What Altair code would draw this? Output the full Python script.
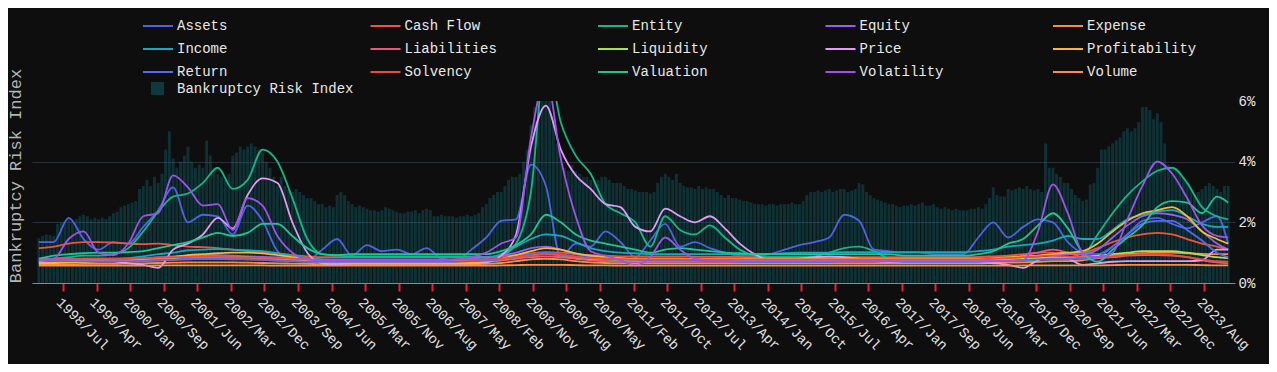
import json
import altair as alt
import pandas as pd

FONT = "Courier New, Liberation Mono, monospace"
BG = "#0e0e0e"
BAR_NAME = "Bankruptcy Risk Index"

# x-axis tick labels (one every 9 periods, first at period boundary 7)
tick_labels = ["1998/Jul", "1999/Apr", "2000/Jan", "2000/Sep", "2001/Jun", "2002/Mar", "2002/Dec",
               "2003/Sep", "2004/Jun", "2005/Mar", "2005/Nov", "2006/Aug", "2007/May", "2008/Feb",
               "2008/Nov", "2009/Aug", "2010/May", "2011/Feb", "2011/Oct", "2012/Jul", "2013/Apr",
               "2014/Jan", "2014/Oct", "2015/Jul", "2016/Apr", "2017/Jan", "2017/Sep", "2018/Jun",
               "2019/Mar", "2019/Dec", "2020/Sep", "2021/Jun", "2022/Mar", "2022/Dec", "2023/Aug"]
tick_idx = [7 + 9 * j for j in range(len(tick_labels))]

# Bankruptcy Risk Index (bars, %), one per period
bar_values = [
    1.48, 1.55, 1.6, 1.58, 1.55, 1.95, 2.0, 2.05, 2.1, 2.05,
    2.1, 2.2, 2.25, 2.2, 2.1, 2.15, 2.1, 2.15, 2.1, 2.2,
    2.3, 2.35, 2.5, 2.55, 2.6, 2.65, 2.7, 3.1, 3.2, 3.4,
    3.2, 3.5, 3.3, 3.6, 4.4, 5.0, 4.1, 3.8, 4.0, 4.2,
    4.5, 4.0, 3.8, 3.9, 3.8, 4.7, 4.2, 3.8, 3.6, 3.5,
    3.4, 3.6, 4.2, 4.3, 4.5, 4.4, 4.5, 4.6, 4.5, 4.4,
    4.3, 4.0, 3.8, 3.5, 3.2, 3.5, 3.2, 3.1, 3.0, 3.1,
    3.0, 2.9, 2.8, 2.8, 2.7, 2.6, 2.6, 2.5, 2.55, 2.5,
    2.9, 3.0, 2.9, 2.7, 2.6, 2.5, 2.55, 2.5, 2.45, 2.4,
    2.4, 2.35, 2.4, 2.5, 2.45, 2.4, 2.35, 2.3, 2.3, 2.35,
    2.35, 2.4, 2.3, 2.4, 2.45, 2.4, 2.2, 2.2, 2.25, 2.2,
    2.2, 2.2, 2.15, 2.2, 2.2, 2.25, 2.2, 2.25, 2.3, 2.5,
    2.6, 2.8, 2.9, 3.0, 3.0, 3.2, 3.4, 3.5, 3.5, 3.6,
    4.0, 4.4, 5.2, 5.8, 6.0, 6.0, 6.0, 6.0, 5.5, 4.6,
    4.2, 3.8, 3.7, 3.9, 3.7, 3.6, 3.5, 3.5, 3.4, 3.4,
    3.4, 3.5, 3.5, 3.4, 3.3, 3.3, 3.3, 3.2, 3.1, 3.1,
    3.05, 3.0, 3.0, 3.0, 2.95, 3.0, 3.3, 3.5, 3.6, 3.5,
    3.4, 3.6, 3.3, 3.2, 3.15, 3.15, 3.1, 3.2, 3.1, 3.15,
    3.1, 3.1, 3.0, 2.9, 2.8, 2.9, 2.8, 2.8, 2.75, 2.7,
    2.7, 2.65, 2.6, 2.6, 2.6, 2.55, 2.6, 2.6, 2.55, 2.6,
    2.6, 2.6, 2.65, 2.6, 2.6, 2.7, 2.9, 3.0, 3.0, 3.05,
    3.0, 3.05, 3.1, 3.0, 3.05, 3.1, 3.1, 3.0, 3.05, 3.1,
    3.3, 3.25, 3.0, 2.9, 2.8, 2.75, 2.7, 2.65, 2.6, 2.6,
    2.55, 2.5, 2.55, 2.55, 2.6, 2.55, 2.6, 2.65, 2.55, 2.55,
    2.6, 2.5, 2.45, 2.5, 2.45, 2.4, 2.45, 2.4, 2.4, 2.4,
    2.45, 2.45, 2.5, 2.45, 2.6, 2.8, 3.15, 2.9, 2.85, 2.85,
    3.1, 3.05, 3.1, 3.15, 3.1, 3.2, 3.1, 3.05, 3.1, 3.0,
    4.6, 3.8, 3.8, 3.6, 3.5, 3.3, 3.3, 3.1, 2.9, 2.8,
    2.7, 2.75, 3.25, 3.3, 3.8, 4.4, 4.4, 4.5, 4.6, 4.7,
    4.8, 5.0, 5.1, 5.0, 5.1, 5.3, 5.8, 5.8, 5.7, 5.4,
    5.6, 5.3, 4.6, 3.9, 3.8, 3.8, 3.7, 3.5, 3.3, 3.1,
    2.9, 3.0, 3.1, 3.2, 3.3, 3.2, 3.1, 3.0, 3.2, 3.2,
]
N_PERIODS = len(bar_values)

# periods at which the line series were read
line_idx = list(range(0, 317, 4)) + [319]

assets = [
    1.35, 1.35, 2.15, 1.45, 1.1, 1.35, 1.3, 1.85, 2.4, 3.15,
    2.0, 2.25, 2.2, 1.6, 2.55, 2.05, 1.05, 0.75, 0.75, 1.1,
    1.45, 0.9, 1.25, 1.05, 1.1, 0.95, 1.15, 0.8, 0.75, 1.1,
    1.5, 2.05, 2.1, 3.9, 3.2, 0.85, 1.3, 1.2, 1.7, 1.35,
    0.85, 1.4, 1.95, 1.2, 1.35, 1.15, 1.0, 0.9, 0.9, 0.95,
    1.1, 1.25, 1.35, 1.5, 2.25, 2.05, 1.1, 1.05, 1.0, 1.0,
    0.95, 0.95, 0.95, 1.5, 2.0, 1.5, 1.85, 2.1, 2.0, 1.35,
    1.0, 0.95, 1.2, 1.6, 2.05, 2.15, 1.95, 1.8, 2.0, 2.2,
    1.3]
cash_flow = [
    1.15, 1.2, 1.3, 1.35, 1.35, 1.33, 1.3, 1.28, 1.3, 1.25,
    1.2, 1.18, 1.15, 1.1, 1.05, 1.02, 0.98, 0.92, 0.88, 0.85,
    0.85, 0.85, 0.85, 0.85, 0.85, 0.85, 0.85, 0.85, 0.85, 0.85,
    0.85, 0.88, 0.92, 0.98, 1.02, 1.0, 0.95, 0.92, 0.9, 0.88,
    0.88, 0.88, 0.88, 0.88, 0.87, 0.87, 0.86, 0.86, 0.85, 0.85,
    0.85, 0.85, 0.85, 0.85, 0.85, 0.85, 0.85, 0.85, 0.85, 0.85,
    0.85, 0.85, 0.85, 0.86, 0.88, 0.9, 0.95, 1.0, 1.0, 0.98,
    1.0, 1.15, 1.35, 1.5, 1.6, 1.65, 1.6, 1.45, 1.3, 1.2,
    1.1]
entity = [
    0.72, 0.8, 0.85, 0.9, 0.9, 0.95, 1.15, 1.7, 2.35, 2.85,
    2.95, 3.3, 3.8, 3.1, 3.4, 4.4, 4.0, 2.8, 1.45, 0.95,
    0.9, 0.88, 0.88, 0.88, 0.88, 0.88, 0.88, 0.88, 0.88, 0.88,
    0.85, 0.9, 1.3, 3.0, 7.5, 5.3, 4.2, 3.6, 2.6, 2.3,
    2.0, 1.2, 2.2, 1.75, 1.6, 1.9, 1.5, 1.1, 0.9, 0.85,
    0.85, 0.85, 0.88, 1.0, 1.15, 1.2, 1.05, 0.8, 0.72, 0.72,
    0.72, 0.72, 0.72, 0.72, 0.75, 0.75, 0.75, 0.78, 0.8, 0.78,
    0.9, 1.6, 2.3, 2.9, 3.35, 3.7, 3.8, 3.3, 2.5, 2.2,
    2.1]
equity = [
    0.8, 0.8, 0.8, 0.8, 0.8, 0.8, 0.8, 0.82, 0.85, 0.88,
    0.9, 0.92, 0.92, 0.9, 0.88, 0.86, 0.84, 0.82, 0.8, 0.78,
    0.78, 0.78, 0.78, 0.78, 0.78, 0.78, 0.78, 0.78, 0.78, 0.8,
    0.85, 0.9, 1.0, 1.15, 1.2, 1.1, 0.95, 0.88, 0.85, 0.82,
    0.8, 0.8, 0.8, 0.8, 0.78, 0.76, 0.75, 0.75, 0.75, 0.75,
    0.75, 0.75, 0.75, 0.75, 0.78, 0.78, 0.78, 0.78, 0.76, 0.75,
    0.75, 0.75, 0.75, 0.75, 0.78, 0.8, 0.85, 0.9, 0.95, 0.95,
    0.95, 1.1, 1.5, 1.9, 2.2, 2.3, 2.25, 2.1, 1.7, 1.3,
    1.1]
expense = [
    0.62, 0.62, 0.62, 0.63, 0.63, 0.63, 0.64, 0.65, 0.66, 0.67,
    0.68, 0.68, 0.68, 0.68, 0.67, 0.66, 0.65, 0.64, 0.63, 0.62,
    0.62, 0.62, 0.62, 0.62, 0.62, 0.62, 0.62, 0.62, 0.62, 0.62,
    0.63, 0.66, 0.72, 0.78, 0.8, 0.78, 0.72, 0.68, 0.66, 0.65,
    0.65, 0.65, 0.65, 0.65, 0.65, 0.65, 0.65, 0.65, 0.65, 0.65,
    0.65, 0.65, 0.65, 0.65, 0.65, 0.65, 0.65, 0.65, 0.65, 0.65,
    0.65, 0.65, 0.65, 0.65, 0.66, 0.67, 0.68, 0.7, 0.72, 0.72,
    0.75, 0.82, 0.9, 0.95, 0.98, 1.0, 1.0, 0.98, 0.96, 0.95,
    0.95]
income = [
    0.65, 0.68, 0.7, 0.72, 0.75, 0.78, 0.82, 0.88, 0.95, 1.0,
    1.08, 1.1, 1.12, 1.1, 1.08, 1.05, 0.98, 0.9, 0.82, 0.78,
    0.75, 0.75, 0.75, 0.75, 0.75, 0.75, 0.75, 0.75, 0.75, 0.75,
    0.8, 0.95, 1.2, 1.45, 1.6, 1.55, 1.35, 1.15, 1.05, 1.0,
    0.98, 0.95, 0.95, 0.95, 0.95, 0.95, 0.95, 0.95, 0.95, 0.95,
    0.98, 1.0, 1.0, 1.0, 1.02, 1.02, 1.02, 1.02, 1.02, 1.02,
    1.02, 1.02, 1.02, 1.05, 1.1, 1.2, 1.25, 1.3, 1.4, 1.55,
    1.45, 1.45, 1.75, 2.1, 2.25, 2.35, 2.4, 2.2, 1.95, 1.85,
    1.85]
liabilities = [
    0.7, 0.7, 0.7, 0.7, 0.7, 0.7, 0.7, 0.72, 0.74, 0.76,
    0.78, 0.8, 0.8, 0.8, 0.78, 0.76, 0.74, 0.72, 0.7, 0.68,
    0.68, 0.68, 0.68, 0.68, 0.68, 0.68, 0.68, 0.68, 0.68, 0.68,
    0.7, 0.74, 0.8, 0.85, 0.88, 0.85, 0.8, 0.75, 0.72, 0.7,
    0.7, 0.7, 0.7, 0.7, 0.7, 0.7, 0.7, 0.7, 0.7, 0.7,
    0.7, 0.7, 0.7, 0.7, 0.7, 0.7, 0.7, 0.7, 0.7, 0.7,
    0.7, 0.7, 0.7, 0.72, 0.75, 0.8, 0.9, 1.0, 1.1, 1.0,
    0.85, 0.82, 0.85, 0.9, 0.92, 0.92, 0.9, 0.85, 0.75, 0.68,
    0.65]
liquidity = [
    0.72, 0.72, 0.72, 0.72, 0.72, 0.72, 0.74, 0.76, 0.78, 0.8,
    0.82, 0.84, 0.85, 0.85, 0.84, 0.82, 0.8, 0.78, 0.75, 0.72,
    0.72, 0.72, 0.72, 0.72, 0.72, 0.72, 0.72, 0.72, 0.72, 0.72,
    0.74, 0.78, 0.85, 0.92, 0.95, 0.92, 0.85, 0.8, 0.78, 0.76,
    0.75, 0.75, 0.75, 0.75, 0.75, 0.75, 0.75, 0.75, 0.75, 0.75,
    0.75, 0.75, 0.75, 0.75, 0.75, 0.75, 0.75, 0.75, 0.75, 0.75,
    0.75, 0.75, 0.75, 0.75, 0.76, 0.78, 0.8, 0.82, 0.84, 0.85,
    0.86, 0.9, 0.95, 1.0, 1.05, 1.05, 1.05, 1.0, 0.92, 0.85,
    0.82]
price = [
    0.7, 0.7, 0.72, 0.75, 0.75, 0.72, 0.65, 0.6, 0.5, 1.1,
    1.3, 1.6, 2.15, 1.8, 2.9, 3.45, 3.3, 2.0, 1.0, 0.65,
    0.62, 0.65, 0.65, 0.65, 0.65, 0.65, 0.65, 0.65, 0.65, 0.65,
    0.68, 0.9, 1.6, 4.5, 5.85, 4.4, 3.55, 3.1, 2.6, 2.5,
    1.85, 1.7, 2.45, 2.2, 2.0, 2.2, 1.8, 1.3, 0.95, 0.75,
    0.72, 0.8, 0.85, 0.88, 0.85, 0.8, 0.72, 0.7, 0.7, 0.7,
    0.7, 0.7, 0.7, 0.68, 0.65, 0.6, 0.5, 0.75, 0.85, 0.8,
    0.6, 0.65, 0.7, 0.72, 0.72, 0.72, 0.72, 0.72, 0.75, 1.1,
    1.1]
profitability = [
    0.65, 0.66, 0.68, 0.7, 0.72, 0.72, 0.74, 0.76, 0.8, 0.85,
    0.92, 0.95, 0.98, 1.0, 1.0, 0.98, 0.92, 0.85, 0.75, 0.68,
    0.68, 0.68, 0.68, 0.68, 0.68, 0.68, 0.68, 0.68, 0.68, 0.68,
    0.72, 0.8, 0.92, 1.05, 1.15, 1.1, 0.98, 0.9, 0.85, 0.82,
    0.8, 0.8, 0.8, 0.8, 0.8, 0.8, 0.8, 0.8, 0.8, 0.8,
    0.8, 0.8, 0.8, 0.8, 0.8, 0.8, 0.8, 0.8, 0.8, 0.8,
    0.8, 0.8, 0.8, 0.8, 0.82, 0.85, 0.88, 0.9, 0.95, 1.0,
    1.05, 1.3, 1.7, 2.05, 2.3, 2.4, 2.5, 2.2, 1.7, 1.45,
    1.3]
return_ = [
    0.75, 0.72, 0.72, 0.72, 0.72, 0.72, 0.72, 0.74, 0.76, 0.78,
    0.8, 0.8, 0.8, 0.78, 0.78, 0.76, 0.74, 0.72, 0.7, 0.7,
    0.7, 0.7, 0.7, 0.7, 0.7, 0.7, 0.7, 0.7, 0.7, 0.72,
    0.74, 0.78, 0.85, 0.95, 1.0, 0.95, 0.88, 0.82, 0.8, 0.78,
    0.76, 0.75, 0.75, 0.75, 0.74, 0.72, 0.72, 0.7, 0.7, 0.7,
    0.7, 0.7, 0.7, 0.7, 0.72, 0.72, 0.72, 0.72, 0.7, 0.7,
    0.7, 0.7, 0.7, 0.7, 0.72, 0.74, 0.76, 0.78, 0.8, 0.8,
    0.8, 0.85, 1.2, 1.6, 1.95, 2.05, 2.05, 1.75, 1.4, 1.0,
    0.85]
solvency = [
    0.78, 0.78, 0.78, 0.8, 0.8, 0.8, 0.8, 0.82, 0.84, 0.85,
    0.86, 0.86, 0.86, 0.85, 0.84, 0.83, 0.82, 0.8, 0.78, 0.76,
    0.76, 0.76, 0.76, 0.76, 0.76, 0.76, 0.76, 0.76, 0.76, 0.76,
    0.78, 0.8, 0.85, 0.9, 0.95, 0.92, 0.86, 0.82, 0.8, 0.78,
    0.78, 0.78, 0.78, 0.78, 0.78, 0.78, 0.78, 0.78, 0.78, 0.78,
    0.78, 0.78, 0.78, 0.78, 0.78, 0.78, 0.78, 0.78, 0.78, 0.78,
    0.78, 0.78, 0.78, 0.78, 0.8, 0.82, 0.85, 0.88, 0.9, 0.88,
    0.85, 0.85, 0.88, 0.92, 0.95, 0.95, 0.92, 0.85, 0.78, 0.72,
    0.7]
valuation = [
    0.8, 0.9, 0.95, 0.98, 1.0, 1.0, 1.02, 1.05, 1.15, 1.25,
    1.35, 1.5, 1.65, 1.55, 1.65, 1.95, 1.95, 1.55, 1.15, 0.95,
    0.92, 0.95, 0.95, 0.95, 0.95, 0.95, 0.95, 0.95, 0.95, 0.95,
    0.95, 1.05, 1.25, 1.6, 2.25, 2.0, 1.6, 1.4, 1.3, 1.2,
    1.1, 1.0, 1.1, 1.15, 1.1, 1.05, 1.0, 0.98, 0.95, 0.95,
    0.95, 0.95, 0.95, 0.95, 0.95, 0.95, 0.95, 0.95, 0.9, 0.9,
    0.9, 0.9, 0.9, 0.95, 1.05, 1.3, 1.45, 1.9, 2.3, 1.8,
    1.0, 0.7, 1.1, 1.5, 1.9, 2.5, 2.7, 2.65, 2.3, 2.85,
    2.65]
volatility = [
    0.75, 0.8, 1.45, 1.7, 1.0, 0.92, 1.3, 2.2, 2.3, 3.55,
    3.15, 2.55, 2.6, 1.75, 2.8, 2.55, 1.55, 1.0, 0.78, 0.75,
    0.75, 0.75, 0.75, 0.75, 0.75, 0.75, 0.75, 0.75, 0.78, 0.85,
    1.0, 1.3, 1.5, 4.8, 6.8, 4.1, 2.2, 1.05, 0.9, 0.75,
    0.58, 0.85, 1.5, 1.1, 0.8, 0.75, 0.72, 0.72, 0.72, 0.72,
    0.72, 0.72, 0.72, 0.72, 0.72, 0.72, 0.72, 0.72, 0.72, 0.72,
    0.72, 0.72, 0.72, 0.72, 0.72, 0.72, 0.75, 1.7, 3.25, 2.3,
    1.0, 0.85, 1.0, 2.1, 3.2, 4.0, 3.6, 2.8, 1.9, 1.55,
    1.5]
volume = [
    0.57, 0.57, 0.57, 0.57, 0.57, 0.57, 0.57, 0.57, 0.58, 0.58,
    0.58, 0.58, 0.58, 0.58, 0.58, 0.58, 0.57, 0.57, 0.57, 0.57,
    0.57, 0.57, 0.57, 0.57, 0.57, 0.57, 0.57, 0.57, 0.57, 0.57,
    0.57, 0.58, 0.59, 0.6, 0.6, 0.6, 0.59, 0.58, 0.58, 0.57,
    0.57, 0.57, 0.57, 0.57, 0.57, 0.57, 0.57, 0.57, 0.57, 0.57,
    0.57, 0.57, 0.57, 0.57, 0.57, 0.57, 0.57, 0.57, 0.57, 0.57,
    0.57, 0.57, 0.57, 0.57, 0.57, 0.57, 0.58, 0.58, 0.58, 0.58,
    0.58, 0.58, 0.59, 0.6, 0.6, 0.6, 0.6, 0.6, 0.59, 0.58,
    0.58]

series = {
    "Assets": assets, "Cash Flow": cash_flow, "Entity": entity, "Equity": equity,
    "Expense": expense, "Income": income, "Liabilities": liabilities, "Liquidity": liquidity,
    "Price": price, "Profitability": profitability, "Return": return_, "Solvency": solvency,
    "Valuation": valuation, "Volatility": volatility, "Volume": volume,
}
colors = {
    "Assets": "#4c63e6", "Cash Flow": "#f0533a", "Entity": "#12b886", "Equity": "#9b5cf0",
    "Expense": "#ff8a3d", "Income": "#15aabf", "Liabilities": "#e8577e", "Liquidity": "#a9e34b",
    "Price": "#e599f7", "Profitability": "#f5b82e", "Return": "#5868ee", "Solvency": "#f04a3a",
    "Valuation": "#1fc592", "Volatility": "#a052e8", "Volume": "#ff8c42",
}
BAR_COLOR = "#0f6f7a"

for name, vals in series.items():
    if len(vals) != len(line_idx):
        raise SystemExit(f"{name}: {len(vals)} values, expected {len(line_idx)}")

names = list(series.keys())
# legend grid is filled column by column: order names so rows read alphabetically
LEG_COLS, LEG_ROWS = 5, 3
legend_order = [names[r * LEG_COLS + c] for c in range(LEG_COLS) for r in range(LEG_ROWS)]

bars_df = pd.DataFrame({"idx": list(range(N_PERIODS)), "value": bar_values, "series": BAR_NAME})
rows = []
for name in names:
    for i, v in zip(line_idx, series[name]):
        rows.append({"idx": i, "value": v, "series": name})
lines_df = pd.DataFrame(rows)

line_legend = alt.Legend(
    title=None, orient="none", legendX=105, legendY=-96, columns=LEG_COLS, gridAlign="all",
    columnPadding=79.5, rowPadding=-11, symbolType="stroke", symbolSize=900,
    symbolStrokeWidth=2, labelFont=FONT, labelFontSize=14, labelColor="#e8e8e8",
    labelOffset=3, padding=5, labelLimit=300,
)
bar_legend = alt.Legend(
    title=None, orient="none", legendX=118, legendY=-20, symbolType="square",
    symbolSize=169, symbolOpacity=0.45, labelFont=FONT, labelFontSize=14,
    labelColor="#e8e8e8", labelOffset=12, padding=0, labelLimit=300,
)

x_enc = alt.X(
    "xpos:Q",
    scale=alt.Scale(domain=[0, N_PERIODS], nice=False, zero=False),
    axis=alt.Axis(
        values=tick_idx, title=None, grid=False,
        labelExpr=f"{json.dumps(tick_labels)}[round((datum.value - 7) / 9)]",
        labelAngle=45, labelAlign="left", labelBaseline="top", labelPadding=4,
        labelOverlap=False, labelFlush=False, labelFont=FONT, labelFontSize=14,
        labelColor="#e0e0e0", domainColor="#8a8a8a", domainWidth=1,
        tickColor="#e8203a", tickWidth=2, tickSize=8,
    ),
)

bars = alt.Chart(bars_df).transform_calculate(xpos="datum.idx + 0.5").mark_bar(
    width=2.9, opacity=0.37, clip=True
).encode(
    x=x_enc,
    y=alt.Y("value:Q", scale=alt.Scale(domain=[0, 6], nice=False, zero=True),
            axis=alt.Axis(orient="left", title=BAR_NAME, values=[2, 4], labels=False,
                          ticks=False, domain=False, grid=True, gridColor="#2b2f3b",
                          gridWidth=1, titleFont=FONT, titleFontSize=17,
                          titleFontWeight="normal", titleColor="#b4b4b4",
                          titleX=-17, titleY=74.5, titleAngle=270,
                          titleAlign="center", titleBaseline="middle")),
    fill=alt.Fill("series:N", scale=alt.Scale(domain=[BAR_NAME], range=[BAR_COLOR]),
                  legend=bar_legend),
)

lines = alt.Chart(lines_df).transform_calculate(xpos="datum.idx + 0.5").mark_line(
    strokeWidth=1.8, interpolate="monotone", clip=True
).encode(
    x=x_enc,
    y=alt.Y("value:Q", scale=alt.Scale(domain=[0, 6], nice=False, zero=True),
            axis=alt.Axis(orient="right", title=None, values=[0, 2, 4, 6],
                          labelExpr="datum.value + '%'", grid=False,
                          domain=False, ticks=False, labelPadding=3,
                          labelFont=FONT, labelFontSize=14, labelColor="#e6e6e6")),
    color=alt.Color("series:N",
                    scale=alt.Scale(domain=legend_order, range=[colors[n] for n in legend_order]),
                    legend=line_legend),
)

chart = alt.layer(bars, lines).resolve_scale(y="independent").properties(
    width=1203, height=182, background=BG,
    padding={"left": 24, "top": 93, "right": 34, "bottom": 81},
    autosize=alt.AutoSizeParams(type="none"),
).configure_view(stroke=None)

chart.save("out.html", embed_options={"renderer": "svg", "actions": False})
